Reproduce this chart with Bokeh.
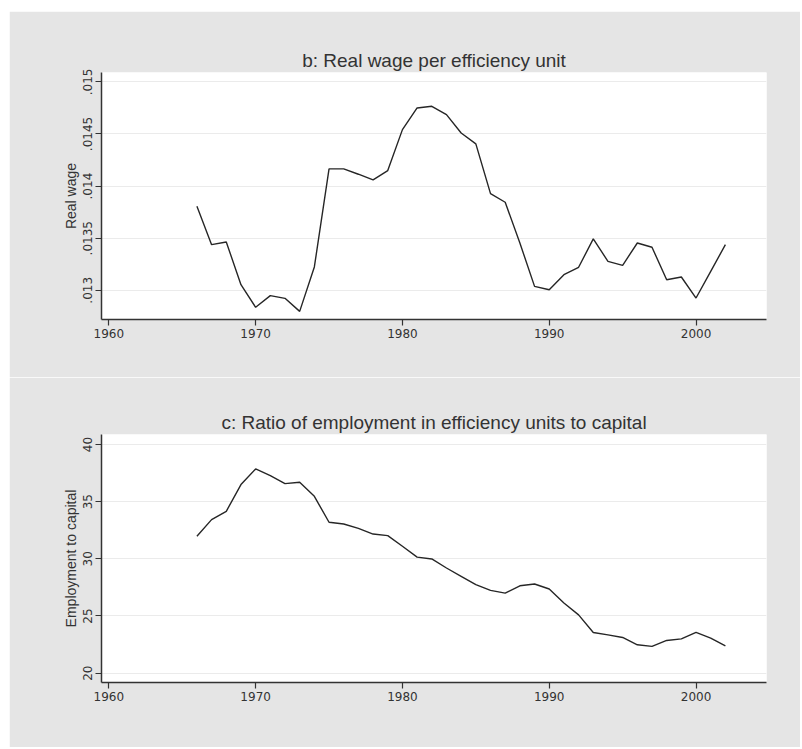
import math
from bokeh.plotting import figure
from bokeh.layouts import column
from bokeh.models import FixedTicker, CustomJSTickFormatter, Range1d
from bokeh.embed import file_html
from bokeh.resources import INLINE

years = list(range(1966, 2003))

real_wage = [0.013806, 0.013438, 0.013464, 0.013054, 0.012837, 0.012949, 0.012923,
             0.012798, 0.013224, 0.014165, 0.014165, 0.014114, 0.014059, 0.014149,
             0.014542, 0.014750, 0.014766, 0.014686, 0.014510, 0.014405, 0.013928,
             0.013845, 0.013454, 0.013038, 0.013006, 0.013150, 0.013221, 0.013493,
             0.013278, 0.013240, 0.013454, 0.013413, 0.013102, 0.013128, 0.012926,
             0.013182, 0.013438]

emp_capital = [31.97, 33.43, 34.16, 36.50, 37.87, 37.28, 36.58, 36.70, 35.47, 33.20,
               33.05, 32.67, 32.17, 32.03, 31.10, 30.15, 29.99, 29.20, 28.47, 27.74,
               27.24, 27.00, 27.64, 27.80, 27.36, 26.13, 25.10, 23.56, 23.35, 23.12,
               22.48, 22.34, 22.86, 23.00, 23.56, 23.07, 22.39]

x_ticks = [1960, 1970, 1980, 1990, 2000]
wage_ticks = [0.013, 0.0135, 0.014, 0.0145, 0.015]
emp_ticks = [20, 25, 30, 35, 40]

title_b = "b: Real wage per efficiency unit"
title_c = "c: Ratio of employment in efficiency units to capital"
ylabel_b = "Real wage"
ylabel_c = "Employment to capital"

BG = "#e5e5e5"
LINE = "#262626"
AX = "#333333"


def make_fig(title, ylabel, xs, ys, yticks, yrange, height, top, bottom, fmt):
    p = figure(width=791, height=height, output_backend="svg", toolbar_location=None,
               x_range=Range1d(1959.5, 2004.8), y_range=Range1d(*yrange),
               min_border_left=92, min_border_right=34,
               min_border_top=top, min_border_bottom=bottom)
    p.title.text = title
    p.title.align = "center"
    p.title.text_font = "Liberation Sans"
    p.title.text_font_size = "19px"
    p.title.text_font_style = "normal"
    p.title.text_color = "#333333"
    p.title.standoff = 3
    p.background_fill_color = "white"
    p.border_fill_color = BG
    p.outline_line_color = None

    p.line(xs, ys, line_color=LINE, line_width=1.4)

    p.xaxis.ticker = FixedTicker(ticks=x_ticks)
    p.yaxis.ticker = FixedTicker(ticks=yticks)
    if fmt:
        p.yaxis.formatter = CustomJSTickFormatter(
            code="return tick.toFixed(4).replace(/0+$/, '').replace(/^0/, '');")
    p.yaxis.major_label_orientation = "vertical"
    for ax in (p.xaxis, p.yaxis):
        ax.axis_line_color = AX
        ax.axis_line_width = 1.5
        ax.major_tick_line_color = AX
        ax.major_tick_line_width = 1.2
        ax.major_tick_out = 6
        ax.major_tick_in = 0
        ax.minor_tick_line_color = None
        ax.major_label_text_font = "DejaVu Sans"
        ax.major_label_text_font_size = "12px"
        ax.major_label_text_color = "#333333"
        ax.major_label_standoff = 3
    p.yaxis.axis_label = ylabel
    p.yaxis.axis_label_text_font = "Liberation Sans"
    p.yaxis.axis_label_text_font_size = "14px"
    p.yaxis.axis_label_text_font_style = "normal"
    p.yaxis.axis_label_text_color = "#333333"
    p.yaxis.axis_label_standoff = 2

    p.xgrid.grid_line_color = None
    p.ygrid.grid_line_color = "#ebebeb"
    p.ygrid.grid_line_width = 1.2
    return p


p1 = make_fig(title_b, ylabel_b, years, real_wage, wage_ticks, (0.01272, 0.01509),
              366, 61, 58, True)
p2 = make_fig(title_c, ylabel_c, years, emp_capital, emp_ticks, (19.18, 40.88),
              370, 57, 65, False)

layout = column(p1, p2, spacing=0, margin=(11, 0, 0, 9))

open("out.html", "w").write(file_html(layout, INLINE))
